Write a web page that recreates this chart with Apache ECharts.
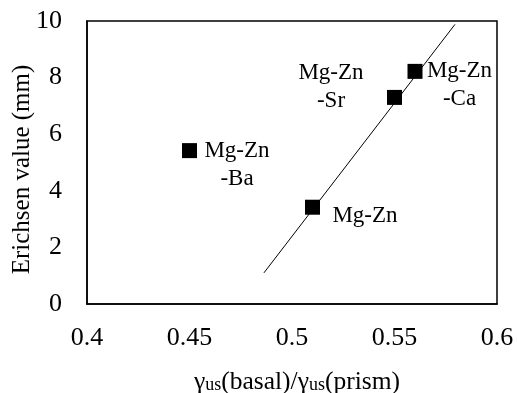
<!DOCTYPE html>
<html>
<head>
<meta charset="utf-8">
<script src="https://cdn.jsdelivr.net/npm/echarts@6/dist/echarts.min.js"></script>
<style>
  html, body { margin: 0; padding: 0; background: #fff; }
  #chart { width: 517px; height: 393px; }
</style>
</head>
<body>
<div id="chart"></div>
<script>
// alloys and their values
var alloyNames = ['Mg-Zn\n-Ba', 'Mg-Zn', 'Mg-Zn\n-Sr', 'Mg-Zn\n-Ca'];
var ratioValues = [0.45, 0.51, 0.55, 0.56];
var erichsenValues = [5.42, 3.42, 7.3, 8.22];
// trend line end points
var trendX = [0.4863, 0.5795];
var trendY = [1.1, 9.88];
var xTicks = [0.4, 0.45, 0.5, 0.55, 0.6];
var yTicks = [0, 2, 4, 6, 8, 10];

var font = '"Liberation Serif", "DejaVu Serif", serif';
var myChart = echarts.init(document.getElementById('chart'));

// label placement per point
var labelCfg = [
    {position: 'right', distance: 4, offset: [0, 14]},
    {position: 'right', distance: 9, offset: [0, 9]},
    {position: 'left', distance: 20, offset: [0, -10]},
    {position: 'right', distance: 1, offset: [0, 14]}
];

var points = ratioValues.map(function (x, i) {
    var c = labelCfg[i];
    var lines = alloyNames[i].split('\n');
    return {
        value: [x, erichsenValues[i]],
        label: {
            show: true,
            position: c.position,
            distance: c.distance,
            offset: c.offset,
            formatter: lines.map(function (l) { return '{a|' + l + '}'; }).join('\n'),
            rich: {
                a: {
                    width: 72,
                    align: 'center',
                    fontFamily: font,
                    fontSize: 23,
                    lineHeight: 28,
                    color: '#000'
                }
            }
        }
    };
});

myChart.setOption({
    animation: false,
    grid: {
        left: 87,
        right: 20,
        top: 21,
        bottom: 89,
        outerBoundsMode: 'none',
        containLabel: false,
        show: true,
        borderColor: '#000',
        borderWidth: 1.5
    },
    xAxis: {
        type: 'value',
        min: xTicks[0],
        max: xTicks[xTicks.length - 1],
        interval: 0.05,
        name: '{g|γ}{s|us}{g|(basal)/γ}{s|us}{g|(prism)}',
        nameLocation: 'middle',
        nameGap: 65,
        nameMoveOverlap: false,
        nameTextStyle: {
            padding: [0, 0, 0, 10],
            rich: {
                g: {fontFamily: font, fontSize: 25.5, color: '#000'},
                s: {fontFamily: font, fontSize: 18, color: '#000', padding: [6, 0, 0, 0]}
            }
        },
        axisLine: {show: true, lineStyle: {color: '#000', width: 1.5}},
        axisTick: {show: false},
        splitLine: {show: false},
        axisLabel: {
            margin: 21,
            fontFamily: font,
            fontSize: 26,
            color: '#000',
            formatter: function (v) { return String(+v.toFixed(2)); }
        }
    },
    yAxis: {
        type: 'value',
        min: yTicks[0],
        max: yTicks[yTicks.length - 1],
        interval: 2,
        name: 'Erichsen value (mm)',
        nameLocation: 'middle',
        nameGap: 52,
        nameMoveOverlap: false,
        nameTextStyle: {fontFamily: font, fontSize: 25, color: '#000', padding: [0, 14, 0, 0]},
        axisLine: {show: true, lineStyle: {color: '#000', width: 1.5}},
        axisTick: {show: false},
        splitLine: {show: false},
        axisLabel: {
            margin: 25,
            fontFamily: font,
            fontSize: 26,
            color: '#000'
        }
    },
    series: [
        {
            type: 'line',
            data: trendX.map(function (x, i) { return [x, trendY[i]]; }),
            symbol: 'none',
            lineStyle: {color: '#000', width: 1},
            z: 1
        },
        {
            type: 'scatter',
            symbol: 'rect',
            symbolSize: 15,
            itemStyle: {color: '#000', opacity: 1},
            data: points,
            z: 2
        }
    ]
});
</script>
</body>
</html>
